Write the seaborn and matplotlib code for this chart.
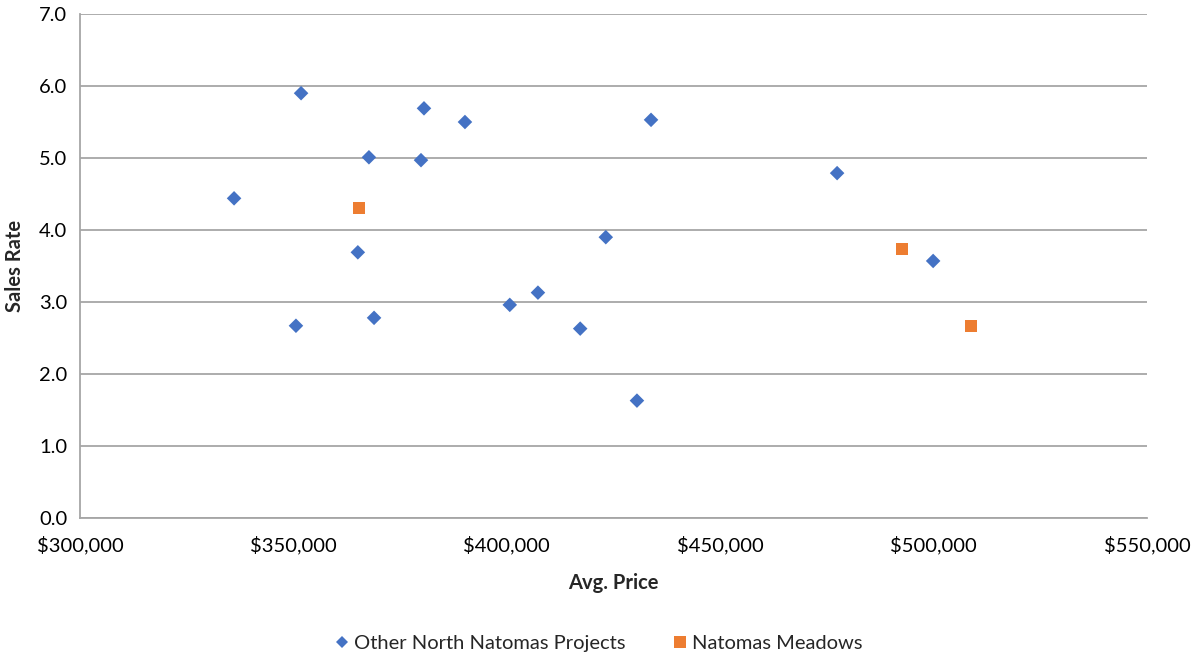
import matplotlib
matplotlib.use("Agg")
import matplotlib.pyplot as plt
import matplotlib.ticker as mticker
from matplotlib.lines import Line2D
import seaborn as sns
import pandas as pd

# Average price and sales rate for other North Natomas projects
other_price = [336100, 351800, 350600, 365100, 367700, 368900, 379900, 380600,
               390200, 400700, 407300, 417200, 423200, 430500, 433800, 477400, 499900]
other_rate = [4.44, 5.90, 2.67, 3.69, 5.01, 2.78, 4.97, 5.69,
              5.50, 2.96, 3.13, 2.63, 3.90, 1.63, 5.53, 4.79, 3.57]

# Natomas Meadows
meadows_price = [365400, 492600, 508800]
meadows_rate = [4.31, 3.74, 2.67]

series_names = ["Other North Natomas Projects", "Natomas Meadows"]
colors = {series_names[0]: "#4472C4", series_names[1]: "#ED7D31"}
markers = {series_names[0]: "D", series_names[1]: "s"}

df = pd.DataFrame({
    "Avg. Price": other_price + meadows_price,
    "Sales Rate": other_rate + meadows_rate,
    "Series": [series_names[0]] * len(other_price) + [series_names[1]] * len(meadows_price),
})

sns.set_theme(style="white")
plt.rcParams["font.family"] = ["Lato", "DejaVu Sans"]

fig = plt.figure(figsize=(11.94, 6.58), dpi=100)
ax = fig.add_axes([0.067, 0.2128, 0.8936, 0.7659])

sns.scatterplot(
    data=df, x="Avg. Price", y="Sales Rate", hue="Series", style="Series",
    size="Series", sizes={series_names[0]: 55, series_names[1]: 75},
    palette=colors, markers=markers, linewidth=0, ax=ax, legend=False, zorder=3,
)

ax.set_xlim(300000, 550000)
ax.set_ylim(0, 7)
ax.xaxis.set_major_locator(mticker.MultipleLocator(50000))
ax.yaxis.set_major_locator(mticker.MultipleLocator(1.0))
ax.xaxis.set_major_formatter(mticker.FuncFormatter(lambda v, p: f"${v:,.0f}"))
ax.yaxis.set_major_formatter(mticker.FormatStrFormatter("%.1f"))

ax.grid(axis="y", color="#a6a6a6", linewidth=1.3)
ax.grid(axis="x", visible=False)
ax.set_axisbelow(True)
for side in ["top", "right"]:
    ax.spines[side].set_visible(False)
for side in ["left", "bottom"]:
    ax.spines[side].set_color("#a6a6a6")
    ax.spines[side].set_linewidth(1.3)

fs = 14.5
ax.tick_params(axis="both", length=0, labelsize=fs, colors="#000000")
ax.tick_params(axis="x", pad=13)
ax.tick_params(axis="y", pad=9)

ax.set_xlabel("Avg. Price", fontsize=fs, fontweight="bold", labelpad=13)
ax.set_ylabel("Sales Rate", fontsize=fs, fontweight="bold", labelpad=10)

handles = [
    Line2D([], [], linestyle="none", marker=markers[series_names[0]], markersize=6.5,
           markerfacecolor=colors[series_names[0]], markeredgewidth=0),
    Line2D([], [], linestyle="none", marker=markers[series_names[1]], markersize=8.5,
           markerfacecolor=colors[series_names[1]], markeredgewidth=0),
]
fig.legend(handles, series_names, loc="center", bbox_to_anchor=(0.5, 0.022),
           ncol=2, frameon=False, fontsize=fs, handletextpad=0.1,
           handlelength=1.0, columnspacing=2.2)

fig.savefig("out.png", dpi=100)
